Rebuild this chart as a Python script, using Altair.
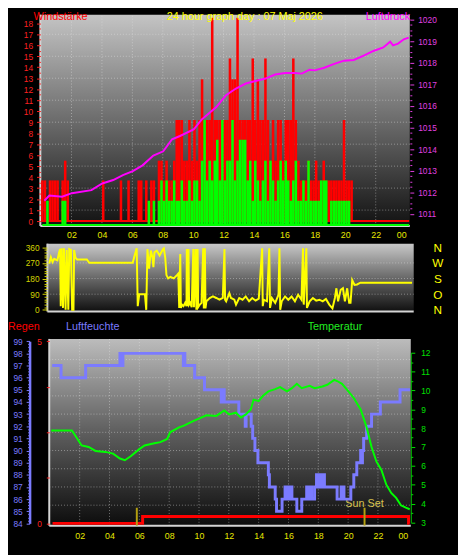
import altair as alt
import pandas as pd

# ---------------- data ----------------
TITLE = "24 hour graph day : 07 Maj 2026"

# wind, 10-minute bins starting at 00:00
WIND_GUST = [
    3.7, 3.7, 0, 3.7, 3.7, 3.7, 3.7, 0, 3.7, 5.5, 3.7, 0,
    0, 0, 0, 0, 0, 0, 0, 0, 0, 0, 0, 0,
    3.7, 0, 0, 0, 0, 0, 0, 3.7, 0, 0, 3.7, 0,
    0, 0, 3.7, 3.7, 0, 3.7, 0, 3.7, 3.7, 0, 5.5, 5.5,
    3.7, 5.5, 3.7, 3.7, 5.5, 9.2, 9.2, 9.2, 5.5, 5.5, 9.2, 5.5,
    9.2, 5.5, 9.2, 12.9, 9.2, 9.2, 9.2, 18.5, 9.2, 9.2, 9.2, 9.2,
    9.2, 9.2, 14.8, 12.9, 12.9, 18.5, 9.2, 9.2, 9.2, 9.2, 9.2, 14.8,
    9.2, 12.9, 9.2, 9.2, 14.8, 9.2, 5.5, 9.2, 5.5, 9.2, 9.2, 5.5,
    9.2, 9.2, 9.2, 14.8, 9.2, 5.5, 3.7, 3.7, 3.7, 5.5, 3.7, 3.7,
    5.5, 3.7, 3.7, 5.5, 3.7, 3.7, 3.7, 3.7, 3.7, 3.7, 3.7, 9.2,
    3.7, 3.7, 3.7, 0, 0, 0, 0, 0, 0, 0, 0, 0,
    0, 0, 0, 0, 0, 0, 0, 0, 0, 0, 0, 0,
]
WIND_AVG = [
    0, 0, 1.85, 0, 0, 0, 0, 0, 1.85, 1.85, 0, 0,
    0, 0, 0, 0, 0, 0, 0, 0, 0, 0, 0, 0,
    0, 0, 0, 0, 0, 0, 0, 0, 0, 0, 0, 0,
    0, 0, 0, 0, 0, 0, 1.85, 0, 1.85, 0, 1.85, 3.7,
    1.85, 3.7, 1.85, 1.85, 3.7, 1.85, 1.85, 3.7, 1.85, 1.85, 3.7, 1.85,
    3.7, 3.7, 1.85, 5.5, 9.2, 3.7, 5.5, 3.7, 5.5, 7.4, 3.7, 9.2,
    3.7, 5.5, 5.5, 9.2, 3.7, 5.5, 7.4, 7.4, 7.4, 3.7, 5.5, 1.85,
    5.5, 3.7, 1.85, 3.7, 5.5, 1.85, 5.5, 3.7, 1.85, 3.7, 5.5, 3.7,
    5.5, 3.7, 1.85, 3.7, 5.5, 1.85, 1.85, 3.7, 1.85, 5.5, 1.85, 1.85,
    1.85, 1.85, 3.7, 3.7, 3.7, 0, 1.85, 1.85, 1.85, 1.85, 1.85, 1.85,
    1.85, 1.85, 0, 0, 0, 0, 0, 0, 0, 0, 0, 0,
    0, 0, 0, 0, 0, 0, 0, 0, 0, 0, 0, 0,
]

PRESS_H = [0.21, 0.54, 1.38, 2.02, 3.31, 4.02, 4.74, 5.38, 6.03, 6.67,
           7.38, 8.03, 8.61, 9.13, 10.03, 10.55, 11.06, 11.52, 12.16, 12.81,
           13.46, 14.10, 14.75, 15.39, 16.04, 16.69, 17.14, 17.65, 17.98, 18.62,
           19.27, 19.92, 20.56, 21.21, 21.85, 22.50, 22.95, 23.14, 23.47, 23.85,
           24.17]
PRESS_HPA = [1011.61, 1011.85, 1011.80, 1011.96, 1012.10, 1012.41, 1012.57, 1012.80, 1012.98, 1013.25,
             1013.70, 1013.90, 1014.46, 1014.61, 1014.91, 1015.37, 1015.67, 1015.95, 1016.50, 1016.81,
             1017.04, 1017.16, 1017.27, 1017.46, 1017.53, 1017.53, 1017.50, 1017.68, 1017.65, 1017.77,
             1017.95, 1018.10, 1018.13, 1018.33, 1018.55, 1018.71, 1018.98, 1018.81, 1018.89, 1019.09,
             1019.17]

DIR_H = [0.06, 0.17, 0.28, 0.39, 0.60, 0.71, 0.78, 0.82, 0.88, 0.97,
         1.03, 1.14, 1.21, 1.32, 1.38, 1.49, 1.57, 1.66, 1.70, 1.79,
         1.90, 2.54, 2.70, 5.56, 5.71, 5.82, 5.89, 5.99, 6.36, 6.45,
         6.53, 6.64, 6.75, 6.86, 6.92, 6.99, 7.14, 7.33, 7.55, 7.61,
         7.70, 7.78, 7.89, 8.04, 8.26, 8.47, 8.56, 8.62, 8.69, 8.73,
         8.80, 8.90, 9.01, 9.10, 9.12, 9.16, 9.23, 9.27, 9.34, 9.44,
         9.55, 9.59, 9.70, 9.75, 9.83, 9.87, 9.98, 10.09, 10.20, 10.24,
         10.31, 10.35, 10.41, 10.63, 10.84, 11.06, 11.27, 11.49, 11.60, 11.64,
         11.71, 11.92, 12.03, 12.25, 12.36, 12.57, 12.79, 13.00, 13.22, 13.43,
         13.65, 13.86, 14.08, 14.12, 14.19, 14.40, 14.55, 14.60, 14.72, 14.94,
         15.16, 15.22, 15.27, 15.37, 15.59, 15.80, 16.02, 16.24, 16.45, 16.67,
         16.77, 16.82, 16.99, 17.03, 17.21, 17.42, 17.64, 17.85, 18.07, 18.28,
         18.50, 18.71, 18.87, 18.97, 19.08, 19.25, 19.40, 19.53, 19.68, 19.81,
         19.90, 20.01, 20.16, 20.33, 20.55, 23.95]
DIR_DEG = [266, 303, 275, 294, 285, 330, 350, 21, 354, 11,
           354, 0, 345, 0, 350, 345, 0, 0, 345, 300,
           290, 290, 271, 271, 322, 354, 21, 90, 90, 0,
           350, 237, 341, 303, 245, 332, 341, 313, 350, 354,
           300, 200, 181, 190, 181, 200, 209, 11, 322, 11,
           30, 21, 40, 21, 350, 21, 350, 30, 40, 15,
           350, 15, 350, 0, 350, 15, 30, 40, 354, 8,
           354, 8, 49, 68, 77, 68, 58, 68, 350, 58,
           49, 96, 68, 58, 30, 68, 58, 77, 49, 68,
           53, 64, 354, 21, 58, 49, 354, 11, 68, 40,
           87, 354, 0, 49, 77, 58, 77, 49, 87, 58,
           354, 30, 354, 11, 49, 68, 53, 58, 49, 62,
           30, 8, 68, 124, 49, 115, 124, 49, 124, 40,
           40, 171, 143, 146, 156, 156]

HUM_H = [0.16, 0.75, 2.40, 4.70, 4.75, 4.80, 4.85, 4.90, 8.95, 9.00,
         9.05, 9.71, 10.37, 11.49, 11.55, 11.69, 12.67, 13.10, 13.16, 13.50,
         13.60, 13.75, 13.95, 14.65, 14.72, 15.11, 15.20, 15.57, 15.77, 15.85,
         15.95, 16.05, 16.15, 16.23, 16.56, 16.89, 17.22, 17.30, 17.45, 17.55,
         17.75, 17.88, 17.95, 18.05, 18.15, 18.25, 18.41, 19.26, 19.53, 19.72,
         20.18, 20.38, 20.58, 20.84, 20.90, 20.96, 21.04, 21.24, 21.57, 22.16,
         23.48, 24.15]
HUM_PCT = [97, 96, 97, 98, 97, 98, 97, 98, 97, 98,
           97, 96, 95, 94, 95, 94, 93, 92, 93, 92,
           91, 90, 89, 88, 87, 86, 85, 86, 87, 86,
           87, 86, 87, 86, 85, 86, 87, 86, 87, 86,
           87, 88, 87, 88, 87, 88, 87, 86, 87, 86,
           87, 88, 89, 90, 89, 90, 91, 92, 93, 94,
           95, 95]

TEMP_H = [0.09, 1.48, 1.67, 2.13, 2.60, 3.06, 3.72, 4.24, 4.70, 5.03,
          5.42, 6.02, 6.35, 7.01, 7.41, 7.87, 8.06, 8.66, 8.99, 9.64,
          10.50, 11.16, 11.69, 12.02, 12.48, 12.81, 13.14, 13.47, 13.66, 14.00,
          14.26, 14.65, 15.11, 15.44, 15.90, 16.23, 16.56, 16.89, 17.42, 17.75,
          18.27, 18.60, 19.07, 19.26, 19.59, 19.92, 20.38, 20.84, 21.24, 21.57,
          21.90, 22.23, 22.56, 22.89, 23.22, 23.54, 23.87, 24.13]
TEMP_C = [7.87, 7.87, 7.65, 7.08, 7.00, 6.79, 6.74, 6.65, 6.39, 6.30,
          6.51, 6.90, 7.08, 7.20, 7.26, 7.43, 7.78, 8.04, 8.13, 8.39,
          8.68, 8.65, 8.94, 8.73, 8.82, 8.56, 8.73, 8.99, 9.51, 9.43,
          9.69, 9.95, 10.07, 10.18, 9.95, 10.12, 10.35, 10.12, 10.24, 10.12,
          10.21, 10.30, 10.56, 10.50, 10.35, 10.04, 9.60, 8.99, 8.04, 7.00,
          6.22, 5.78, 5.00, 4.56, 4.30, 3.91, 3.78, 3.70]

RAIN_H = [0.18, 6.22, 24.05, 24.12]
RAIN_MM = [0.0, 0.19, 0.0, 0.0]

SUN_H = [5.83, 21.10]
SUN_TEXT = ["", "Sun Set"]

HOUR_TICKS = [2, 4, 6, 8, 10, 12, 14, 16, 18, 20, 22, 24]
GRID_HOURS = [2, 4, 6, 8, 10, 12, 14, 16, 18, 20, 22]
WIND_TICKS = list(range(0, 19))
WIND_GRID = [1, 3, 5, 7, 9, 11, 13, 15, 17]
PRESS_TICKS = list(range(1011, 1021))
DIR_TICKS = [0, 90, 180, 270, 360]
DIR_GRID = [90, 180, 270]
COMPASS = ["N", "O", "S", "W", "N"]
HUM_TICKS = list(range(84, 100))
RAIN_TICKS = [0, 1.25, 2.5, 3.75, 5]
RAIN_GRID = [0.5, 1, 1.5, 2, 2.5, 3, 3.5, 4, 4.5]
TEMP_TICKS = list(range(3, 13))

# ---------------- layout ----------------
W, H = 458, 547
FONT = "Liberation Sans"
LBL = 8.5


def sc(domain, rng):
    return alt.Scale(domain=domain, range=rng, nice=False, zero=False)


X1 = sc([0, 24], [33.7, 405.2])
X2 = sc([0, 24], [41.0, 412.0])
X3 = sc([0, 24], [42.6, 406.9])
YW = sc([0, 18], [212.0, 10.7])
YP = sc([1011, 1020], [204.7, 7.0])
YD = sc([0, 360], [302.3, 238.7])
YH = sc([84, 99], [519.7, 334.3])
YR = sc([0, 5], [519.7, 334.3])
YT = sc([3, 12], [518.7, 346.0])

P1 = (-0.05, 24.24, -0.45, 18.78)
P2 = (-0.06, 24.06, -9.6, 381.0)
P3 = (-0.04, 24.2, 83.81, 99.19)

ONE = alt.Data(values=[{"k": 0}])
HOUR_EXPR = "datum.value == 24 ? '00' : (datum.value < 10 ? '0' + datum.value : '' + datum.value)"


def axis(orient, offset, values, color, **kw):
    base = dict(orient=orient, offset=offset, values=values, labelColor=color,
                tickColor=color, title=None, grid=False, domain=False, zindex=1,
                labelFont=FONT, labelFontSize=LBL, tickWidth=1, format="d")
    base.update(kw)
    return alt.Axis(**base)


def minor(orient, offset, values, color, size=2):
    return alt.Axis(orient=orient, offset=offset, values=values, labels=False,
                    tickColor=color, tickSize=size, tickWidth=1, domain=False,
                    grid=False, title=None, zindex=1)


def grad(top, mid, bottom):
    return alt.LinearGradient(
        gradient="linear",
        stops=[alt.GradientStop(color=top, offset=0),
               alt.GradientStop(color=mid, offset=0.5),
               alt.GradientStop(color=bottom, offset=1)],
        x1=0, x2=0, y1=0, y2=1)


def bg(P, XS, YS, fill, xaxis=None, yaxis=None):
    return alt.Chart(ONE).mark_rect(fill=fill).encode(
        x=alt.XDatum(P[0], scale=XS, axis=xaxis), x2=alt.X2Datum(P[1]),
        y=alt.YDatum(P[2], scale=YS, axis=yaxis), y2=alt.Y2Datum(P[3]))


def vgrid(P, XS, YS, hours, color="#e8e8e8"):
    return alt.Chart(pd.DataFrame({"h": hours})).mark_rule(
        color=color, strokeDash=[1, 2], opacity=0.45, strokeWidth=1).encode(
        x=alt.X("h:Q", scale=XS, axis=None),
        y=alt.YDatum(P[2], scale=YS, axis=None), y2=alt.Y2Datum(P[3]))


def hgrid(P, XS, YS, vals, yaxis=None, color="#e8e8e8"):
    return alt.Chart(pd.DataFrame({"v": vals})).mark_rule(
        color=color, strokeDash=[1, 2], opacity=0.45, strokeWidth=1).encode(
        y=alt.Y("v:Q", scale=YS, axis=yaxis),
        x=alt.XDatum(P[0], scale=XS, axis=None), x2=alt.X2Datum(P[1]))


def borders(P, XS, YS, color="#d4d4d4"):
    left = alt.Chart(ONE).mark_rule(color=color, strokeWidth=2).encode(
        x=alt.XDatum(P[0], scale=XS, axis=None),
        y=alt.YDatum(P[2], scale=YS, axis=None), y2=alt.Y2Datum(P[3]))
    bottom = alt.Chart(ONE).mark_rule(color=color, strokeWidth=2).encode(
        y=alt.YDatum(P[2], scale=YS, axis=None),
        x=alt.XDatum(P[0], scale=XS, axis=None), x2=alt.X2Datum(P[1]))
    return [left, bottom]


def text(t, x, y, color, size=11, align="left"):
    return alt.Chart(ONE).mark_text(text=t, color=color, fontSize=size, font=FONT,
                                    align=align, baseline="middle").encode(
        x=alt.value(x), y=alt.value(y))


layers = []

# ---------- panel 1 : wind + pressure ----------
x1_axis = axis("bottom", 217 - H, HOUR_TICKS, "#e8e800", ticks=False,
               labelPadding=5, labelExpr=HOUR_EXPR, labelFontSize=9)
wind_axis = axis("left", -33, WIND_TICKS, "#ff2020", tickSize=4, labelPadding=4)
layers.append(bg(P1, X1, YW, grad("#c4c4c4", "#6c6c6c", "#121212"), x1_axis, wind_axis))
layers.append(vgrid(P1, X1, YW, GRID_HOURS))
layers.append(hgrid(P1, X1, YW, WIND_GRID,
                    yaxis=minor("left", -33, [k + 0.5 for k in range(18)], "#ff2020")))
layers += borders(P1, X1, YW)

wind_df = pd.DataFrame({
    "t0": [i / 6 for i in range(len(WIND_GUST))],
    "t1": [(i + 1) / 6 for i in range(len(WIND_GUST))],
    "gust": WIND_GUST, "avg": WIND_AVG})

layers.append(alt.Chart(ONE).mark_rule(color="#ff0000", strokeWidth=2).encode(
    y=alt.YDatum(0, scale=YW, axis=None),
    x=alt.XDatum(0.02, scale=X1, axis=None), x2=alt.X2Datum(24.2)))
layers.append(alt.Chart(ONE).mark_rule(color="#00ff00", strokeWidth=2).encode(
    y=alt.YDatum(-0.36, scale=YW, axis=None),
    x=alt.XDatum(0.08, scale=X1, axis=None), x2=alt.X2Datum(24.2)))
layers.append(alt.Chart(wind_df).transform_filter("datum.gust > 0").mark_rect(color="#ff0000").encode(
    x=alt.X("t0:Q", scale=X1, axis=None), x2="t1:Q",
    y=alt.Y("gust:Q", scale=YW, axis=None), y2=alt.Y2Datum(0)))
layers.append(alt.Chart(wind_df).transform_filter("datum.avg > 0").mark_rect(color="#00ff00").encode(
    x=alt.X("t0:Q", scale=X1, axis=None), x2="t1:Q",
    y=alt.Y("avg:Q", scale=YW, axis=None), y2=alt.Y2Datum(-0.36)))

press_axis = axis("right", 409 - W, PRESS_TICKS, "#e040e0", tickSize=4, labelPadding=4)
layers.append(alt.Chart(pd.DataFrame({"h": PRESS_H, "p": PRESS_HPA})).mark_line(
    color="#ff00ff", strokeWidth=2).encode(
    x=alt.X("h:Q", scale=X1, axis=None), y=alt.Y("p:Q", scale=YP, axis=press_axis)))
layers.append(alt.Chart(ONE).mark_point(opacity=0).encode(
    x=alt.XDatum(12, scale=X1, axis=None),
    y=alt.YDatum(1015, scale=YP, axis=minor("right", 409 - W,
                                            [1010.75 + k * 0.25 for k in range(38) if (k % 4) != 1],
                                            "#e040e0"))))

layers.append(text("Windstärke", 26, 4.5, "#ff0000"))
layers.append(text(TITLE, 241, 4.5, "#ffff00", align="center"))
layers.append(text("Luftdruck", 364, 4.5, "#ff00ff"))

# ---------- panel 2 : wind direction ----------
dir_axis = axis("left", -39.7, DIR_TICKS, "#d4d400", tickSize=5, labelPadding=3)
layers.append(bg(P2, X2, YD, grad("#c8c8c8", "#6a6a6a", "#101010"), None, dir_axis))
layers.append(hgrid(P2, X2, YD, DIR_GRID,
                    yaxis=minor("left", -39.7, [v for v in range(15, 360, 15) if v % 90], "#d4d400", 3)))
layers += borders(P2, X2, YD)
compass_expr = "[" + ",".join("'%s'" % c for c in COMPASS) + "][round(datum.value / 90)]"
compass_axis = alt.Axis(orient="right", offset=413 - W, values=DIR_TICKS, labelExpr=compass_expr,
                        ticks=False, domain=False, grid=False, title=None, labelColor="#ffff00",
                        labelFont=FONT, labelFontSize=12, labelAlign="center", labelPadding=24,
                        zindex=1)
layers.append(alt.Chart(pd.DataFrame({"h": DIR_H, "d": DIR_DEG})).mark_line(
    color="#ffff00", strokeWidth=2).encode(
    x=alt.X("h:Q", scale=X2, axis=None), y=alt.Y("d:Q", scale=YD, axis=compass_axis)))

# ---------- panel 3 : rain, humidity, temperature ----------
x3_axis = axis("bottom", 522 - H, HOUR_TICKS, "#e8e800", ticks=False,
               labelPadding=6, labelExpr=HOUR_EXPR, labelFontSize=9)
layers.append(bg(P3, X3, YH, grad("#bcbcbc", "#5e5e5e", "#0c0c0c"), x3_axis,
                 minor("left", -22, [84 + k * 0.25 for k in range(61) if k % 4], "#7b7bff")))
layers.append(vgrid(P3, X3, YH, GRID_HOURS))
rain_axis = axis("left", -42, RAIN_TICKS, "#ff2020", tickSize=3, labelPadding=5,
                 labelExpr="datum.value == 0 || datum.value == 5 ? datum.label : ''")
layers.append(hgrid(P3, X3, YR, RAIN_GRID, yaxis=rain_axis))
layers += borders(P3, X3, YH)

layers.append(alt.Chart(pd.DataFrame({"h": RAIN_H, "r": RAIN_MM})).mark_line(
    color="#ff0000", strokeWidth=3, interpolate="step-after").encode(
    x=alt.X("h:Q", scale=X3, axis=None), y=alt.Y("r:Q", scale=YR, axis=None)))

sun_df = pd.DataFrame({"h": SUN_H, "t": SUN_TEXT})
layers.append(alt.Chart(sun_df).mark_rule(color="#b4a010", strokeWidth=2).encode(
    x=alt.X("h:Q", scale=X3, axis=None),
    y=alt.YDatum(-0.06, scale=YR, axis=None), y2=alt.Y2Datum(0.43)))
layers.append(alt.Chart(sun_df).mark_text(color="#d8c450", fontSize=11, font=FONT,
                                          align="center", baseline="middle").encode(
    x=alt.X("h:Q", scale=X3, axis=None),
    y=alt.YDatum(0.54, scale=YR, axis=None), text="t:N"))

hum_axis = axis("left", -22, HUM_TICKS, "#7b7bff", tickSize=3.5, labelPadding=4,
                domain=True, domainColor="#7b7bff", domainWidth=2.5)
layers.append(alt.Chart(pd.DataFrame({"h": HUM_H, "u": HUM_PCT})).mark_line(
    color="#7b7bff", strokeWidth=3, interpolate="step-after").encode(
    x=alt.X("h:Q", scale=X3, axis=None), y=alt.Y("u:Q", scale=YH, axis=hum_axis)))

temp_axis = axis("right", 410 - W, TEMP_TICKS, "#00e000", tickSize=4, labelPadding=6,
                 domain=True, domainColor="#00c000", domainWidth=1)
layers.append(alt.Chart(pd.DataFrame({"h": TEMP_H, "c": TEMP_C})).mark_line(
    color="#00ff00", strokeWidth=2).encode(
    x=alt.X("h:Q", scale=X3, axis=None), y=alt.Y("c:Q", scale=YT, axis=temp_axis)))
layers.append(alt.Chart(ONE).mark_point(opacity=0).encode(
    x=alt.XDatum(12, scale=X3, axis=None),
    y=alt.YDatum(7, scale=YT, axis=minor("right", 410 - W,
                                         [3.5 + k for k in range(9)], "#00e000"))))

layers.append(text("Regen", 0, 319.7, "#ff0000"))
layers.append(text("Luftfeuchte", 59, 319.7, "#7b7bff"))
layers.append(text("Temperatur", 305, 319.7, "#22ee22"))

chart = alt.layer(*layers).resolve_scale(x="independent", y="independent").properties(
    width=W, height=H, background="black", padding=0,
    autosize=alt.AutoSizeParams(type="none"),
).configure_view(stroke=None)

chart.save("out.html", embed_options={"renderer": "svg", "actions": False})
